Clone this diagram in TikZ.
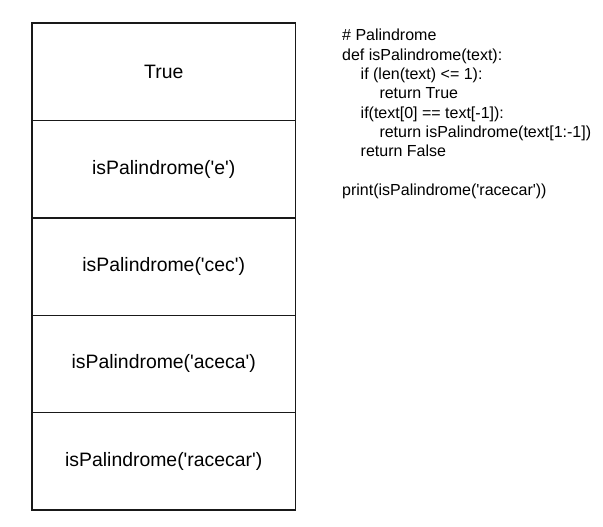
\documentclass[tikz,border=0pt]{standalone}
\usepackage{fontspec}
\setmainfont{Liberation Sans}[Ligatures=TeXOff]
\begin{document}
\begin{tikzpicture}[x=1pt,y=-1pt,
  frame/.style={draw=black!90,line width=1.4pt,minimum width=263.5pt,minimum height=97.4pt,inner sep=0pt,font=\fontsize{19.4}{23}\selectfont},
  code/.style={anchor=base west,inner sep=0pt,font=\fontsize{16}{19.4}\selectfont}]
\useasboundingbox (0,0) rectangle (603,527);
\node[frame] (b1) at (163.75,71.7) {True};
\node[frame] (b2) at (163.75,169.1) {isPalindrome('e')};
\node[frame] (b3) at (163.75,266.5) {isPalindrome('cec')};
\node[frame] (b4) at (163.75,363.9) {isPalindrome('aceca')};
\node[frame] (b5) at (163.75,461.3) {isPalindrome('racecar')};
\node[code] (c1) at (342,40.7) {\# Palindrome};
\node[code] (c2) at (342,60.1) {def isPalindrome(text):};
\node[code] (c3) at (360.5,79.5) {if (len(text) <= 1):};
\node[code] (c4) at (379.3,98.8) {return True};
\node[code] (c5) at (360.5,118.2) {if(text[0] == text[-1]):};
\node[code] (c6) at (379.3,137.6) {return isPalindrome(text[1:-1])};
\node[code] (c7) at (360.5,157.0) {return False};
\node[code] (c8) at (342,195.7) {print(isPalindrome('racecar'))};
\end{tikzpicture}
\end{document}
